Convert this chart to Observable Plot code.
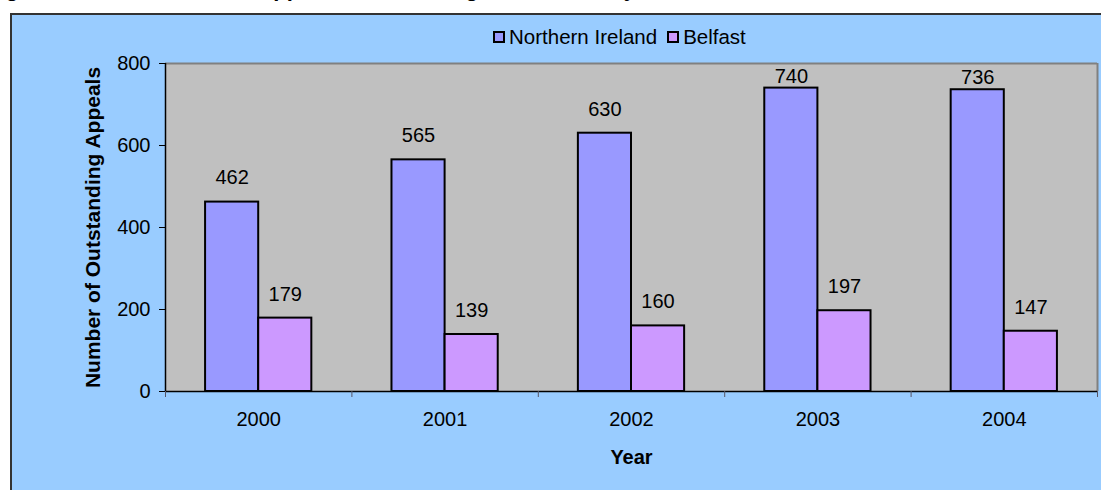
<!DOCTYPE html>
<html>
<head>
<meta charset="utf-8">
<script src="https://cdn.jsdelivr.net/npm/d3@7"></script>
<script src="https://cdn.jsdelivr.net/npm/@observablehq/plot@0.6"></script>
<style>
  html, body { margin: 0; padding: 0; background: #ffffff; }
  #wrap { position: relative; width: 1101px; height: 490px; overflow: hidden; background: #ffffff; font-family: "Liberation Sans", Arial, sans-serif; }
  #title { position: absolute; left: -14px; top: -22px; font-weight: bold; font-size: 22px; line-height: 22px; white-space: nowrap; color: #000; }
  #panel { position: absolute; left: 10px; top: 13px; width: 1091px; height: 477px; background: #99CCFF; border-left: 2px solid #333; border-top: 2px solid #333; box-sizing: border-box; }
  #legend { position: absolute; left: 481px; top: 12px; height: 20px; display: flex; align-items: center; font-size: 20.5px; color: #000; white-space: nowrap; }
  .sw { width: 12px; height: 12px; box-sizing: border-box; border: 2px solid #000; margin-right: 4px; }
  .item { display: flex; align-items: center; margin-right: 10px; }
  #chart { position: absolute; left: 0; top: 35px; }
</style>
</head>
<body>
<div id="wrap">
  <div id="title">Figure 5: Total Number of Appeals Outstanding at Year End by Year</div>
  <div id="panel">
    <div id="legend"></div>
    <div id="chart"></div>
  </div>
</div>
<script>
const years = [2000, 2001, 2002, 2003, 2004];
const seriesNames = ["Northern Ireland", "Belfast"];
const northernIreland = [462, 565, 630, 740, 736];
const belfast = [179, 139, 160, 197, 147];
const seriesColors = ["#9999FF", "#CC99FF"];
const yTicks = [0, 200, 400, 600, 800];
const yTitle = "Number of Outstanding Appeals";
const xTitle = "Year";

const rows = [];
years.forEach((yr, i) => {
  rows.push({year: yr, series: seriesNames[0], value: northernIreland[i]});
  rows.push({year: yr, series: seriesNames[1], value: belfast[i]});
});
const boundaries = [years[0] - 0.5, ...years.map(y => y + 0.5)];
const bw = 0.285; // bar width in category units
const isB = d => d.series === seriesNames[1];

// legend
const legend = document.getElementById("legend");
seriesNames.forEach((s, i) => {
  const it = document.createElement("div");
  it.className = "item";
  const sw = document.createElement("div");
  sw.className = "sw";
  sw.style.background = seriesColors[i];
  const t = document.createElement("span");
  t.textContent = s;
  it.appendChild(sw); it.appendChild(t);
  legend.appendChild(it);
});

const chart = Plot.plot({
  width: 1089,
  height: 440,
  marginLeft: 153,
  marginRight: 4,
  marginTop: 13,
  marginBottom: 99,
  style: { background: "transparent", fontFamily: "Liberation Sans, Arial, sans-serif", fontSize: "20px", color: "#000", overflow: "visible" },
  x: { domain: [boundaries[0], boundaries[boundaries.length - 1]] },
  y: { domain: [0, 800] },
  color: { domain: seriesNames, range: seriesColors },
  marks: [
    Plot.frame({ fill: "#C0C0C0" }),
    Plot.ruleY([800], { stroke: "#808080", strokeWidth: 2 }),
    Plot.ruleX([boundaries[boundaries.length - 1]], { stroke: "#808080", strokeWidth: 2 }),
    Plot.rectY(rows, {
      x1: d => isB(d) ? d.year : d.year - bw,
      x2: d => isB(d) ? d.year + bw : d.year,
      y1: 0,
      y2: "value",
      fill: "series",
      stroke: "#000",
      strokeWidth: 2
    }),
    Plot.ruleX([boundaries[0]], { stroke: "#000", strokeWidth: 1.5 }),
    Plot.ruleY([0], { stroke: "#000", strokeWidth: 1.5 }),
    Plot.axisY({ ticks: yTicks, tickSize: 6, tickPadding: 9, label: null, fontSize: 20, stroke: "#000", fill: "#000" }),
    Plot.axisX({ ticks: boundaries, tickSize: 6, tickFormat: () => "", label: null, stroke: "#556" }),
    Plot.axisX({ ticks: years, tickSize: 0, tickPadding: 20, tickFormat: d => String(d), label: null, fontSize: 20, fill: "#000" }),
    Plot.text(rows.filter(d => d.value <= 700), {
      x: d => isB(d) ? d.year + bw / 2 : d.year - bw / 2,
      y: "value",
      text: d => String(d.value),
      dy: -24,
      fontSize: 20,
      fill: "#000"
    }),
    Plot.text(rows.filter(d => d.value > 700), {
      x: d => isB(d) ? d.year + bw / 2 : d.year - bw / 2,
      y: "value",
      text: d => String(d.value),
      dy: -12,
      fontSize: 20,
      fill: "#000"
    }),
    Plot.text([yTitle], { frameAnchor: "left", textAnchor: "middle", dx: -72, rotate: -90, fontWeight: "bold", fontSize: 21, fill: "#000" }),
    Plot.text([xTitle], { frameAnchor: "bottom", dy: 72, fontWeight: "bold", fontSize: 20, fill: "#000" })
  ]
});
document.getElementById("chart").appendChild(chart);
</script>
</body>
</html>
